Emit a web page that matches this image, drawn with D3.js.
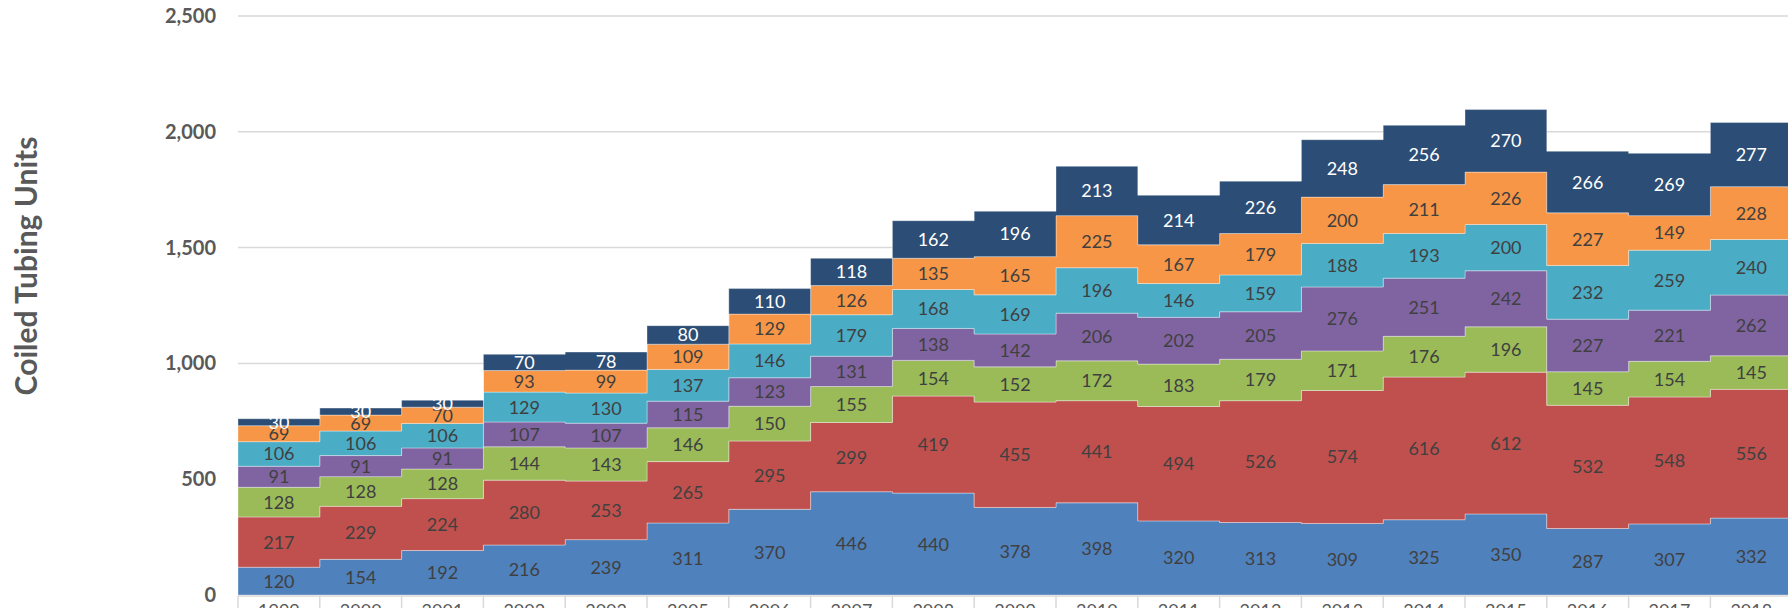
<!DOCTYPE html>
<head>
<meta charset="utf-8">
<title> Coiled Tubing Units </title>
<script src="https://cdn.jsdelivr.net/npm/d3@7/dist/d3.min.js"></script>
<style>
	body { margin: 0; background: #fff; }
	svg { display: block; }
	.yaxis text { font: bold 20px Lato, sans-serif; fill: #595959; }
	.xaxis text { font: 18px Lato, sans-serif; fill: #595959; }
	.lbl { font: 18px Lato, sans-serif; }
</style>
</head>

<body>
<script>
var width = 1788;
var height = 608;
var margin = {top: 16, bottom: 13, left: 238, right: -4};

// data, bottom series first
var years = ["1999","2000","2001","2002","2003","2005","2006","2007","2008","2009",
             "2010","2011","2012","2013","2014","2015","2016","2017","2018"];
var s1 = [120,154,192,216,239,311,370,446,440,378,398,320,313,309,325,350,287,307,332];
var s2 = [217,229,224,280,253,265,295,299,419,455,441,494,526,574,616,612,532,548,556];
var s3 = [128,128,128,144,143,146,150,155,154,152,172,183,179,171,176,196,145,154,145];
var s4 = [91,91,91,107,107,115,123,131,138,142,206,202,205,276,251,242,227,221,262];
var s5 = [106,106,106,129,130,137,146,179,168,169,196,146,159,188,193,200,232,259,240];
var s6 = [69,69,70,93,99,109,129,126,135,165,225,167,179,200,211,226,227,149,228];
var s7 = [30,30,30,70,78,80,110,118,162,196,213,214,226,248,256,270,266,269,277];
var series = [s1, s2, s3, s4, s5, s6, s7];
var yTicks = [0, 500, 1000, 1500, 2000, 2500];

var colors = ["#4F81BD","#C0504D","#9BBB59","#8064A2","#4BACC6","#F79646","#2C4D75"];
var labelColors = ["#404040","#404040","#404040","#404040","#404040","#404040","#ffffff"];

var svg = d3.select('body').append("svg")
		.attr("width", width)
		.attr("height", height);

// table for the stack
var table = years.map(function(y, i) {
	var row = {year: y};
	series.forEach(function(s, k) { row["s" + k] = s[i]; });
	return row;
});
var keys = series.map(function(s, k) { return "s" + k; });
var stacked = d3.stack().keys(keys)(table);

// scales
var plotW = 19 * 81.8;
var xScale = d3.scaleBand().domain(years).range([margin.left, margin.left + plotW]).padding(0);
var yScale = d3.scaleLinear().domain([0, 2500]).range([595, margin.top]);
var bw = xScale.bandwidth();

// gridlines
svg.append("g").selectAll("line").data(yTicks.slice(1)).enter()
	.append("line")
	.attr("x1", margin.left).attr("x2", width)
	.attr("y1", function(d) { return yScale(d); })
	.attr("y2", function(d) { return yScale(d); })
	.style("stroke", "#d9d9d9").style("stroke-width", 1.5);

// y axis labels
var yAxis = d3.axisLeft(yScale).tickValues(yTicks).tickSize(0).tickPadding(22)
	.tickFormat(d3.format(","));
svg.append("g").attr("class", "yaxis")
	.attr("transform", "translate(" + margin.left + ",0)")
	.call(yAxis)
	.call(function(g) { g.select(".domain").remove(); });

// step areas: point at each left edge plus one at the far right
function stepPoints(layer) {
	var pts = layer.map(function(d) { return {x: xScale(d.data.year), y0: d[0], y1: d[1]}; });
	var last = layer[layer.length - 1];
	pts.push({x: xScale(last.data.year) + bw, y0: last[0], y1: last[1]});
	return pts;
}
var area = d3.area()
	.curve(d3.curveStepAfter)
	.x(function(d) { return d.x; })
	.y0(function(d) { return yScale(d.y0); })
	.y1(function(d) { return yScale(d.y1); });

svg.append("g").selectAll("path").data(stacked).enter()
	.append("path")
	.attr("d", function(layer) { return area(stepPoints(layer)); })
	.style("fill", function(d, i) { return colors[i]; })
	.style("stroke", "rgba(255,255,255,0.35)")
	.style("stroke-width", 1);

// value labels in the middle of each segment
stacked.forEach(function(layer, k) {
	svg.append("g").selectAll("text").data(layer).enter()
		.append("text")
		.attr("class", "lbl")
		.attr("x", function(d) { return xScale(d.data.year) + bw / 2; })
		.attr("y", function(d) { return yScale((d[0] + d[1]) / 2); })
		.attr("text-anchor", "middle")
		.attr("dy", "0.36em")
		.style("fill", labelColors[k])
		.text(function(d) { return d[1] - d[0]; });
});

// category axis: baseline, separators and year labels
var xg = svg.append("g").attr("class", "xaxis");
xg.append("line")
	.attr("x1", margin.left).attr("x2", width)
	.attr("y1", 596).attr("y2", 596)
	.style("stroke", "#d9d9d9").style("stroke-width", 1.5);
xg.selectAll("line.sep").data(years.concat(["end"])).enter()
	.append("line").attr("class", "sep")
	.attr("x1", function(d, i) { return i < years.length ? xScale(d) : xScale(years[years.length - 1]) + bw; })
	.attr("x2", function(d, i) { return i < years.length ? xScale(d) : xScale(years[years.length - 1]) + bw; })
	.attr("y1", 596).attr("y2", height)
	.style("stroke", "#d9d9d9").style("stroke-width", 1.5);
xg.selectAll("text").data(years).enter()
	.append("text")
	.attr("x", function(d) { return xScale(d) + bw / 2; })
	.attr("y", 617)
	.attr("text-anchor", "middle")
	.text(function(d) { return d; });

// y title
svg.append("text")
	.attr("transform", "translate(37,266) rotate(-90)")
	.attr("text-anchor", "middle")
	.style("font", "bold 30px Lato, sans-serif")
	.style("fill", "#595959")
	.text("Coiled Tubing Units");
</script>
</body>
